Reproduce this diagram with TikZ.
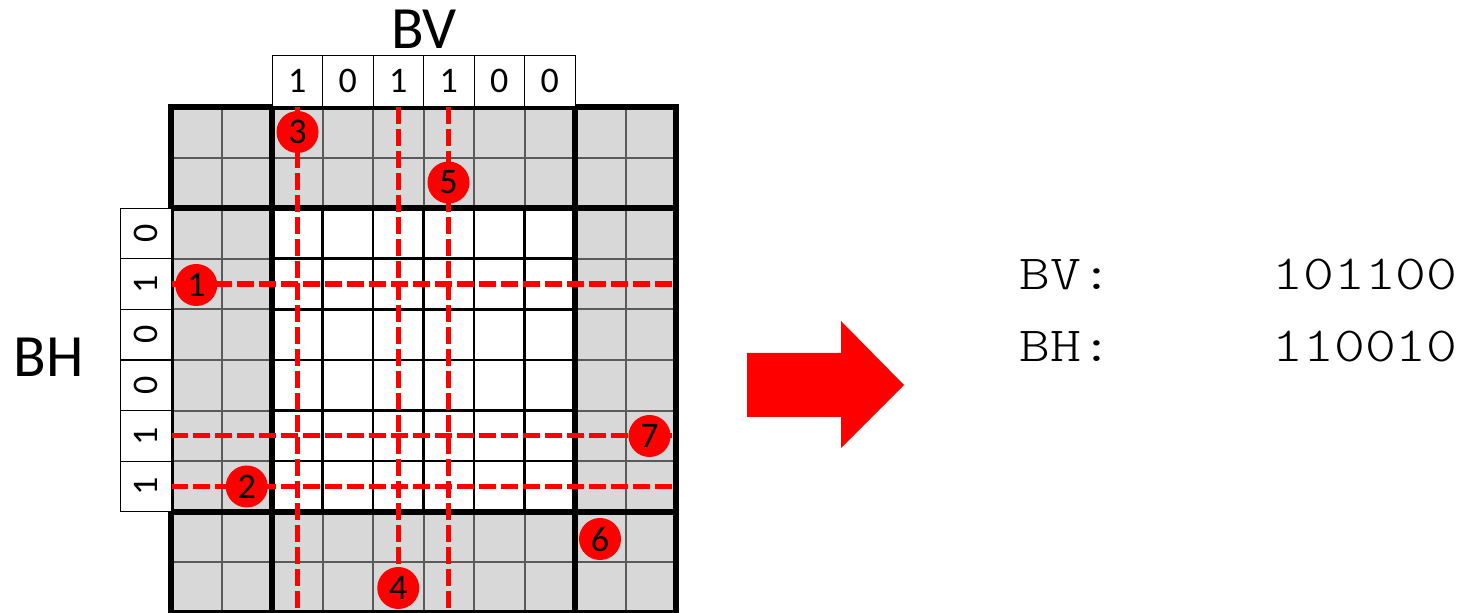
\documentclass[tikz,border=0pt]{standalone}
\usepackage{fontspec}
\setmainfont{Carlito}
\newfontfamily\monof[FakeStretch=1.2]{Latin Modern Mono Light}
\definecolor{cellgray}{RGB}{216,216,216}
\definecolor{linegray}{RGB}{90,90,90}
\definecolor{pred}{RGB}{255,0,0}
\begin{document}
\begin{tikzpicture}[x=0.5pt,y=-0.5pt,
  thinline/.style={draw=linegray,line width=1pt},
  blackthin/.style={draw=black,line width=1.3pt},
  heavyline/.style={draw=black,line width=2.85pt},
  redline/.style={draw=pred,line width=2.6pt,dash pattern=on 8.3pt off 2.7pt},
  bitbox/.style={draw=black,line width=0.5pt,fill=white,minimum width=25.25pt,minimum height=25.5pt,inner sep=0pt,font=\fontsize{18pt}{20pt}\selectfont},
  marker/.style={circle,fill=pred,minimum size=21pt,inner sep=0pt,text=black,font=\fontsize{18pt}{20pt}\selectfont},
  biglabel/.style={font=\fontsize{30pt}{34pt}\selectfont,inner sep=0pt},
  monotext/.style={font=\monof\fontsize{24.5pt}{30pt}\selectfont,inner sep=0pt}
]
\useasboundingbox (0,0) rectangle (1478,613);
% cells
\fill[cellgray] (171,107) rectangle (676,613);
\fill[white] (272,208.2) rectangle (575,511.8);
% thin grey lines
\foreach \i in {1,3,4,5,6,7,9} {
  \draw[thinline] ({171+\i*50.5},107) -- ({171+\i*50.5},613);
}
\foreach \j in {1,3,4,5,6,7,9} {
  \draw[thinline] (171,{107+\j*50.6}) -- (676,{107+\j*50.6});
}
% thin black lines in the white block
\foreach \i in {3,4,5,6,7} {
  \draw[blackthin] ({171+\i*50.5},208.2) -- ({171+\i*50.5},511.8);
}
\foreach \j in {3,4,5,6,7} {
  \draw[blackthin] (272,{107+\j*50.6}) -- (575,{107+\j*50.6});
}
% heavy lines
\draw[heavyline] (171,107) rectangle (676,613);
\draw[heavyline] (272,107) -- (272,613);
\draw[heavyline] (575,107) -- (575,613);
\draw[heavyline] (171,208.2) -- (676,208.2);
\draw[heavyline] (171,511.8) -- (676,511.8);
% dashed red lines
\coordinate (va1) at (297.25,107);  \coordinate (vb1) at (297.25,613);
\coordinate (va2) at (398.25,107);  \coordinate (vb2) at (398.25,613);
\coordinate (va3) at (448.75,107);  \coordinate (vb3) at (448.75,613);
\coordinate (ha1) at (171,284.1);   \coordinate (hb1) at (676,284.1);
\coordinate (ha2) at (171,435.9);   \coordinate (hb2) at (676,435.9);
\coordinate (ha3) at (171,486.5);   \coordinate (hb3) at (676,486.5);
\draw[redline] (va1) -- (vb1);
\draw[redline] (va2) -- (vb2);
\draw[redline] (va3) -- (vb3);
\draw[redline] (ha1) -- (hb1);
\draw[redline] (ha2) -- (hb2);
\draw[redline] (ha3) -- (hb3);
% markers
\node[marker] (m1) at (196.25,285) {1};
\node[marker] (m2) at (246.75,486.5) {2};
\node[marker] (m3) at (297.5,132) {3};
\node[marker] (m4) at (398.25,588) {4};
\node[marker] (m5) at (448.5,182.5) {5};
\node[marker] (m6) at (600,539) {6};
\node[marker] (m7) at (649.5,436) {7};
% BV boxes
\node[bitbox] (bv1) at (297.25,81.35) {1};
\node[bitbox] (bv2) at (347.75,81.35) {0};
\node[bitbox] (bv3) at (398.25,81.35) {1};
\node[bitbox] (bv4) at (448.75,81.35) {1};
\node[bitbox] (bv5) at (499.25,81.35) {0};
\node[bitbox] (bv6) at (549.75,81.35) {0};
% BH boxes
\node[bitbox,rotate=90] (bh1) at (145.75,233.5) {0};
\node[bitbox,rotate=90] (bh2) at (145.75,284.1) {1};
\node[bitbox,rotate=90] (bh3) at (145.75,334.7) {0};
\node[bitbox,rotate=90] (bh4) at (145.75,385.3) {0};
\node[bitbox,rotate=90] (bh5) at (145.75,435.9) {1};
\node[bitbox,rotate=90] (bh6) at (145.75,486.5) {1};
% labels
\node[biglabel,anchor=base] (lbv) at (424,49) {BV};
\node[biglabel,anchor=base] (lbh) at (48.5,376.5) {BH};
% arrow
\fill[pred] (747,353) -- (841,353) -- (841,321) -- (904,385) -- (841,448) -- (841,417) -- (747,417) -- cycle;
% right text
\node[monotext,anchor=base west] (tbv) at (1019,290) {BV:};
\node[monotext,anchor=base east] (vbv) at (1458,290) {101100};
\node[monotext,anchor=base west] (tbh) at (1019,362) {BH:};
\node[monotext,anchor=base east] (vbh) at (1458,362) {110010};
\end{tikzpicture}
\end{document}
